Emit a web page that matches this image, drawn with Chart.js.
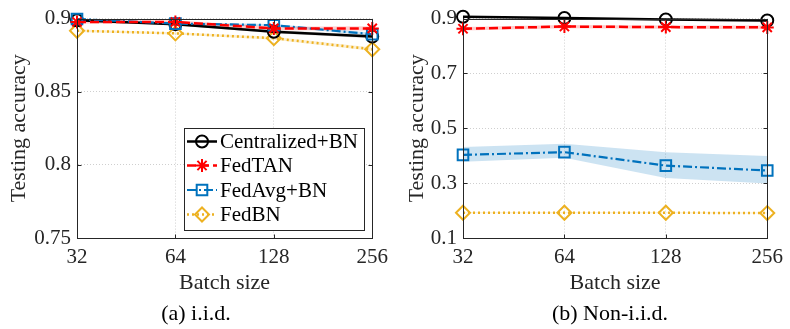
<!DOCTYPE html>
<html><head><meta charset="utf-8">
<script src="https://cdn.jsdelivr.net/npm/chart.js@4/dist/chart.umd.min.js"></script>
<style>
html,body{margin:0;padding:0;background:#fff;width:790px;height:329px;overflow:hidden}
#wrap{position:relative;width:790px;height:329px}
canvas{position:absolute;top:0}
#c1{left:0}
#c2{left:395px}
.cap{position:absolute;top:300px;font-size:22px;line-height:26px;color:#000;white-space:nowrap;transform:translateX(-50%)}
</style></head><body>
<div id="wrap">
<canvas id="c1" width="395" height="329"></canvas>
<canvas id="c2" width="395" height="329"></canvas>
<div class="cap" style="left:196px;font-family:'Liberation Serif'">(a) i.i.d.</div>
<div class="cap" style="left:610px;font-family:'Liberation Serif'">(b) Non-i.i.d.</div>
</div>
<script>
// ---- data ----
const batchSizes = ['32', '64', '128', '256'];
const seriesNames = ['Centralized+BN', 'FedTAN', 'FedAvg+BN', 'FedBN'];

const iidYTicks = [0.75, 0.8, 0.85, 0.9];
const nonIidYTicks = [0.1, 0.3, 0.5, 0.7, 0.9];

// (a) i.i.d.
const iidCentralized = [0.8988, 0.8962, 0.8910, 0.8877];
const iidFedTAN      = [0.8977, 0.8977, 0.8933, 0.8933];
const iidFedAvg      = [0.8997, 0.8966, 0.8955, 0.8893];
const iidFedBN       = [0.8917, 0.8899, 0.8866, 0.8790];
const iidCentralizedSpread = [0.0008, 0.0008, 0.0010, 0.0012];
const iidFedTANSpread      = [0.0010, 0.0012, 0.0012, 0.0014];
const iidFedAvgSpread      = [0.0006, 0.0008, 0.0008, 0.0010];
const iidFedBNSpread       = [0.0008, 0.0008, 0.0010, 0.0012];

// (b) Non-i.i.d.
const nonCentralized = [0.907, 0.902, 0.897, 0.893];
const nonFedTAN      = [0.863, 0.871, 0.869, 0.868];
const nonFedAvg      = [0.403, 0.413, 0.364, 0.346];
const nonFedBN       = [0.192, 0.192, 0.192, 0.191];
const nonCentralizedSpread = [0.004, 0.004, 0.005, 0.005];
const nonFedTANSpread      = [0.006, 0.006, 0.006, 0.007];
const nonFedAvgUpper       = [0.432, 0.444, 0.413, 0.399];
const nonFedAvgLower       = [0.378, 0.393, 0.319, 0.299];
const nonFedBNSpread       = [0.002, 0.002, 0.002, 0.002];

// ---- styles ----
const FONT = "'Liberation Serif'";
const styles = [
  {color: '#000000', band: 'rgba(0,0,0,0.18)',      dash: [],          marker: 'circle',  radius: 6,   lw: 2.5, order: 3},
  {color: '#ff0000', band: 'rgba(255,0,0,0.20)',    dash: [9, 4],      marker: 'star',    radius: 6.5, lw: 2.5, order: 1},
  {color: '#0072BD', band: 'rgba(0,114,189,0.20)',  dash: [9, 3, 2, 3],marker: 'rect',    radius: 7.5, lw: 2.2, order: 2},
  {color: '#EDB120', band: 'rgba(237,177,32,0.20)', dash: [2, 3],      marker: 'rectRot', radius: 7,   lw: 2.5, order: 4}
];

function lineDataset(i, data) {
  const s = styles[i];
  return {
    label: seriesNames[i], data: data, borderColor: s.color, backgroundColor: 'rgba(0,0,0,0)',
    borderWidth: s.lw, borderDash: s.dash, pointStyle: s.marker, pointRadius: s.radius,
    pointBorderWidth: 2, pointBorderColor: s.color, pointBackgroundColor: 'rgba(0,0,0,0)',
    pointHoverRadius: s.radius, tension: 0, fill: false, clip: false, order: s.order
  };
}
function bandDatasets(i, upper, lower) {
  const s = styles[i];
  return [
    {label: '_up' + i, data: upper, borderWidth: 0, pointRadius: 0, backgroundColor: s.band,
     fill: '+1', tension: 0, clip: false, order: 10 + i},
    {label: '_lo' + i, data: lower, borderWidth: 0, pointRadius: 0, backgroundColor: s.band,
     fill: false, tension: 0, clip: false, order: 10 + i}
  ];
}
function plus(a, b) { return a.map((v, k) => v + b[k]); }
function minus(a, b) { return a.map((v, k) => v - b[k]); }

function buildDatasets(means, bands) {
  const ds = [];
  bands.forEach((b, i) => ds.push(...bandDatasets(i, b[0], b[1])));
  means.forEach((m, i) => ds.push(lineDataset(i, m)));
  return ds;
}

function drawMarker(ctx, style, x, y, r, color) {
  ctx.save();
  ctx.strokeStyle = color; ctx.lineWidth = 2; ctx.setLineDash([]);
  ctx.beginPath();
  if (style === 'circle') {
    ctx.arc(x, y, r, 0, Math.PI * 2);
  } else if (style === 'rect') {
    const s = r * Math.SQRT1_2; ctx.rect(x - s, y - s, 2 * s, 2 * s);
  } else if (style === 'rectRot') {
    ctx.moveTo(x - r, y); ctx.lineTo(x, y - r); ctx.lineTo(x + r, y); ctx.lineTo(x, y + r); ctx.closePath();
  } else if (style === 'star') {
    ctx.moveTo(x - r, y); ctx.lineTo(x + r, y); ctx.moveTo(x, y - r); ctx.lineTo(x, y + r);
    const d = r * Math.SQRT1_2;
    ctx.moveTo(x - d, y - d); ctx.lineTo(x + d, y + d); ctx.moveTo(x - d, y + d); ctx.lineTo(x + d, y - d);
  }
  ctx.stroke();
  ctx.restore();
}

// axes box with MATLAB-style inward ticks (positions from the chart's own scales)
const boxPlugin = {
  id: 'box',
  afterDatasetsDraw(chart) {
    const {ctx, chartArea: a, scales} = chart;
    const L = Math.round(a.left) + 0.5, T = Math.round(a.top) + 0.5;
    const R = L + Math.round(a.right - a.left), B = T + Math.round(a.bottom - a.top);
    ctx.save();
    ctx.strokeStyle = '#262626'; ctx.lineWidth = 1; ctx.setLineDash([]);
    ctx.beginPath();
    const tl = 4;
    scales.y.ticks.forEach(t => {
      const y = Math.round(scales.y.getPixelForValue(t.value)) + 0.5;
      ctx.moveTo(L, y); ctx.lineTo(L + tl, y);
      ctx.moveTo(R, y); ctx.lineTo(R - tl, y);
    });
    scales.x.ticks.forEach((t, k) => {
      const x = Math.round(scales.x.getPixelForTick(k)) + 0.5;
      ctx.moveTo(x, B); ctx.lineTo(x, B - tl);
      ctx.moveTo(x, T); ctx.lineTo(x, T + tl);
    });
    ctx.stroke();
    ctx.strokeRect(L, T, R - L, B - T);
    ctx.restore();
  }
};

const legendPlugin = {
  id: 'insideLegend',
  afterDraw(chart, args, opts) {
    if (!opts.show) return;
    const ctx = chart.ctx;
    const bx = 184, by = 128, bw = 180, bh = 102;
    ctx.save();
    ctx.fillStyle = '#fff'; ctx.fillRect(bx, by, bw, bh);
    ctx.strokeStyle = '#262626'; ctx.lineWidth = 1;
    ctx.strokeRect(bx + 0.5, by + 0.5, bw, bh);
    const rows = [141.5, 165.5, 190, 214.5];
    seriesNames.forEach((name, i) => {
      const s = styles[i], y = rows[i];
      ctx.save();
      ctx.strokeStyle = s.color; ctx.lineWidth = s.lw; ctx.setLineDash(s.dash);
      ctx.beginPath(); ctx.moveTo(187, y); ctx.lineTo(217, y); ctx.stroke();
      ctx.restore();
      drawMarker(ctx, s.marker, 202, y, s.radius, s.color);
      ctx.fillStyle = '#000'; ctx.font = '21px ' + FONT; ctx.textBaseline = 'middle'; ctx.textAlign = 'left';
      ctx.fillText(name, 220, y + 1);
    });
    ctx.restore();
  }
};

function makeChart(canvasId, means, bands, yTicks, yMin, yMax, pad, yWidth, showLegend) {
  const tickFmt = v => String(+(+v).toFixed(2));
  return new Chart(document.getElementById(canvasId), {
    type: 'line',
    data: {labels: batchSizes, datasets: buildDatasets(means, bands)},
    options: {
      responsive: false, animation: false, devicePixelRatio: 1,
      font: {family: FONT},
      layout: {padding: pad},
      plugins: {legend: {display: false}, tooltip: {enabled: false}, insideLegend: {show: showLegend}},
      scales: {
        x: {
          type: 'category', offset: false,
          grid: {offset: false, color: '#cfcfcf', lineWidth: 1, drawTicks: false},
          border: {display: true, color: '#262626', width: 1, dash: [1, 2]},
          ticks: {color: '#262626', font: {family: FONT, size: 21}, padding: 7, maxRotation: 0, autoSkip: false},
          title: {display: true, text: 'Batch size', color: '#262626', font: {family: FONT, size: 22, lineHeight: 1.2}, padding: 0},
          afterFit(scale) { scale.height = 58; }
        },
        y: {
          type: 'linear', min: yMin, max: yMax,
          afterBuildTicks(scale) { scale.ticks = yTicks.map(v => ({value: v})); },
          grid: {color: '#cfcfcf', lineWidth: 1, drawTicks: false},
          border: {display: true, color: '#262626', width: 1, dash: [1, 2]},
          ticks: {color: '#262626', font: {family: FONT, size: 21}, padding: 6, callback: tickFmt},
          title: {display: true, text: 'Testing accuracy', color: '#262626', font: {family: FONT, size: 22, lineHeight: 1.2}, padding: 0},
          afterFit(scale) { scale.width = yWidth; }
        }
      }
    },
    plugins: [boxPlugin, legendPlugin]
  });
}

Chart.defaults.font.family = FONT;

function drawAll() {
  makeChart('c1',
    [iidCentralized, iidFedTAN, iidFedAvg, iidFedBN],
    [[plus(iidCentralized, iidCentralizedSpread), minus(iidCentralized, iidCentralizedSpread)],
     [plus(iidFedTAN, iidFedTANSpread), minus(iidFedTAN, iidFedTANSpread)],
     [plus(iidFedAvg, iidFedAvgSpread), minus(iidFedAvg, iidFedAvgSpread)],
     [plus(iidFedBN, iidFedBNSpread), minus(iidFedBN, iidFedBNSpread)]],
    iidYTicks, 0.75, 0.9, {left: 6, right: 18, top: 11, bottom: 33}, 71, true);

  makeChart('c2',
    [nonCentralized, nonFedTAN, nonFedAvg, nonFedBN],
    [[plus(nonCentralized, nonCentralizedSpread), minus(nonCentralized, nonCentralizedSpread)],
     [plus(nonFedTAN, nonFedTANSpread), minus(nonFedTAN, nonFedTANSpread)],
     [nonFedAvgUpper, nonFedAvgLower],
     [plus(nonFedBN, nonFedBNSpread), minus(nonFedBN, nonFedBNSpread)]],
    nonIidYTicks, 0.1, 0.9, {left: 9, right: 17, top: 11, bottom: 33}, 59, false);
}

if (document.fonts && document.fonts.load) {
  Promise.all([document.fonts.load("21px 'Liberation Serif'"), document.fonts.load("22px 'Liberation Serif'")])
    .then(drawAll, drawAll);
} else {
  drawAll();
}
</script>
</body></html>
